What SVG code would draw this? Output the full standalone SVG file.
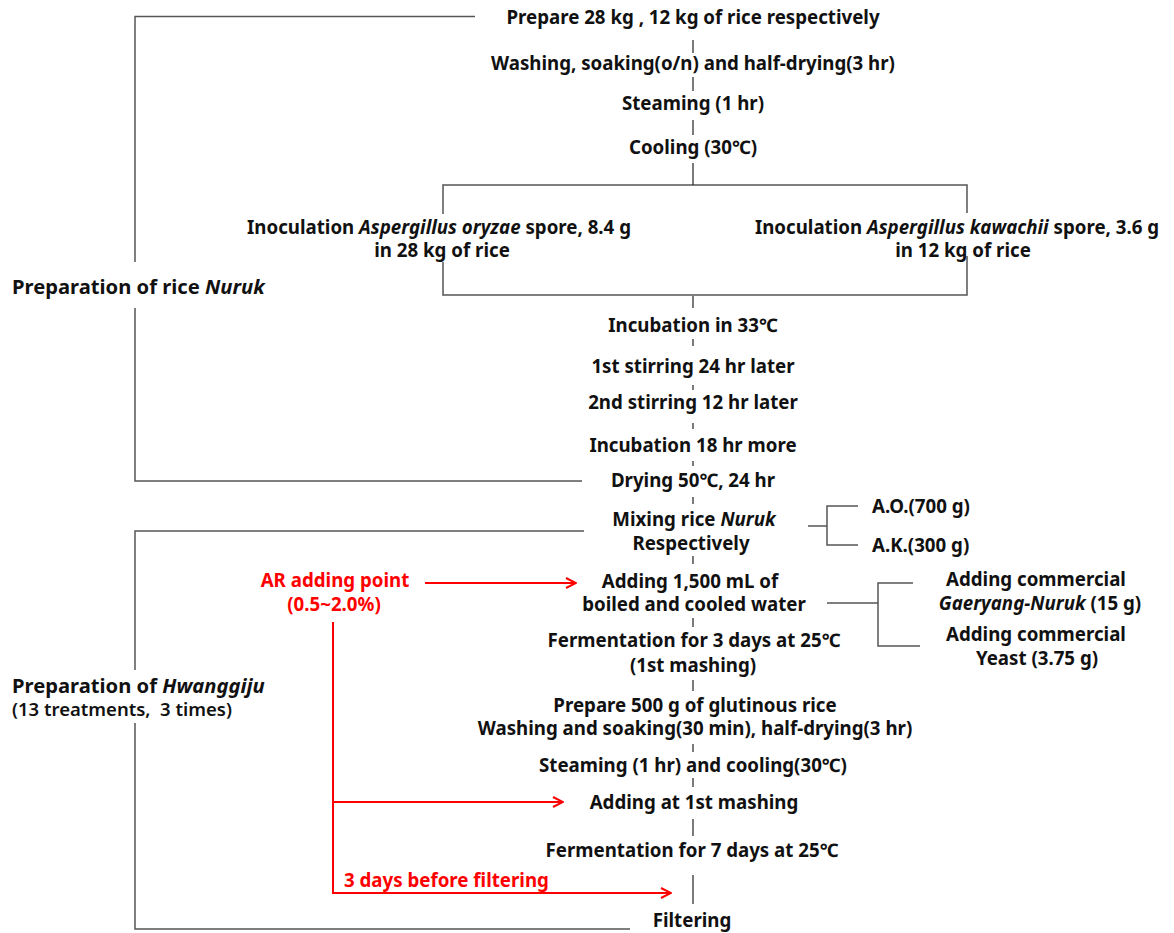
<svg xmlns="http://www.w3.org/2000/svg" width="1174" height="933" viewBox="0 0 1174 933">
<style>
text{font-family:"Noto Sans","Open Sans","Liberation Sans",sans-serif;font-weight:bold;font-size:18.7px;fill:#111;text-anchor:middle}
.i{font-style:italic}
.big{font-size:20.2px}
.s{font-size:18.5px;font-weight:600}
.l{text-anchor:start}
.r{fill:#ff0000}
.ln{stroke:#555;stroke-width:1.5;fill:none}
.d{stroke:#222;stroke-width:1.2;fill:none}
.red{stroke:#ff0000;stroke-width:2;fill:none}
</style>
<defs>
<marker id="ah" viewBox="0 0 12 12" refX="11" refY="6" markerWidth="12" markerHeight="12" markerUnits="userSpaceOnUse" orient="auto">
<path d="M1,1 L11,6 L1,11" fill="none" stroke="#ff0000" stroke-width="2"/>
</marker>
</defs>
<g id="connectors">
<polyline class="ln" points="475,16.5 135,16.5 135,262"/>
<polyline class="ln" points="135,308 135,481 582,481"/>
<polyline class="ln" points="584,531 135,531 135,670"/>
<polyline class="ln" points="135,723 135,929 630,929"/>
<polyline class="ln" points="443,214 443,185 967,185 967,213"/>
<polyline class="ln" points="443,262 443,295 967,295 967,256"/>
<line class="d" x1="693" y1="40" x2="693" y2="53"/>
<line class="d" x1="693" y1="77" x2="693" y2="91"/>
<line class="d" x1="693" y1="120" x2="693" y2="135"/>
<line class="d" x1="693" y1="163" x2="693" y2="185"/>
<line class="d" x1="693" y1="296" x2="693" y2="308"/>
<line class="d" x1="693" y1="339" x2="693" y2="346"/>
<line class="d" x1="693" y1="385" x2="693" y2="390"/>
<line class="d" x1="693" y1="423" x2="693" y2="429"/>
<line class="d" x1="693" y1="461" x2="693" y2="466"/>
<line class="d" x1="693" y1="497" x2="693" y2="504"/>
<line class="d" x1="693" y1="556" x2="693" y2="564"/>
<line class="d" x1="693" y1="618" x2="693" y2="627"/>
<line class="d" x1="693" y1="680" x2="693" y2="691"/>
<line class="d" x1="693" y1="744" x2="693" y2="752"/>
<line class="d" x1="693" y1="778" x2="693" y2="787"/>
<line class="d" x1="693" y1="819" x2="693" y2="836"/>
<line class="d" x1="693" y1="875" x2="693" y2="904"/>
<polyline class="ln" points="808,526 827,526"/>
<polyline class="ln" points="858,506 827,506 827,545 858,545"/>
<polyline class="ln" points="827,603 878,603"/>
<polyline class="ln" points="913,583 878,583 878,646 920,646"/>
<line class="red" x1="425" y1="583" x2="576" y2="583" marker-end="url(#ah)"/>
<polyline class="red" points="333,622 333,893 671,893" marker-end="url(#ah)"/>
<line class="red" x1="333" y1="802" x2="563" y2="802" marker-end="url(#ah)"/>
</g>
<g id="n-prepare"><text x="693" y="24">Prepare 28 kg , 12 kg of rice respectively</text></g>
<g id="n-washing"><text x="693" y="70">Washing, soaking(o/n) and half-drying(3 hr)</text></g>
<g id="n-steaming"><text x="693" y="110">Steaming (1 hr)</text></g>
<g id="n-cooling"><text x="693" y="154">Cooling (30℃)</text></g>
<g id="n-inoc-ao"><text x="439" y="234">Inoculation <tspan class="i">Aspergillus oryzae</tspan> spore, 8.4 g</text><text x="442" y="257">in 28 kg of rice</text></g>
<g id="n-inoc-ak"><text x="957" y="234">Inoculation <tspan class="i">Aspergillus kawachii</tspan> spore, 3.6 g</text><text x="963" y="257">in 12 kg of rice</text></g>
<g id="n-prep-nuruk"><text class="l big" x="12" y="294">Preparation of rice <tspan class="i">Nuruk</tspan></text></g>
<g id="n-incub33"><text x="693" y="332">Incubation in 33℃</text></g>
<g id="n-stir1"><text x="693" y="373">1st stirring 24 hr later</text></g>
<g id="n-stir2"><text x="693" y="409">2nd stirring 12 hr later</text></g>
<g id="n-incub18"><text x="693" y="452">Incubation 18 hr more</text></g>
<g id="n-drying"><text x="693" y="487">Drying 50℃, 24 hr</text></g>
<g id="n-mixing"><text x="694" y="526">Mixing rice <tspan class="i">Nuruk</tspan></text><text x="691" y="550">Respectively</text></g>
<g id="n-ao"><text class="l" x="872" y="513">A.O.(700 g)</text></g>
<g id="n-ak"><text class="l" x="872" y="552">A.K.(300 g)</text></g>
<g id="n-ar"><text class="r" x="335" y="587">AR adding point</text><text class="r" x="334" y="611">(0.5~2.0%)</text></g>
<g id="n-water"><text x="690" y="588">Adding 1,500 mL of</text><text x="694" y="611">boiled and cooled water</text></g>
<g id="n-gaeryang"><text x="1036" y="586">Adding commercial</text><text x="1040" y="610"><tspan class="i">Gaeryang-Nuruk</tspan> (15 g)</text></g>
<g id="n-yeast"><text x="1036" y="641">Adding commercial</text><text x="1037" y="665">Yeast (3.75 g)</text></g>
<g id="n-ferm3"><text x="694" y="647">Fermentation for 3 days at 25℃</text><text x="693" y="672">(1st mashing)</text></g>
<g id="n-prep-hwang"><text class="l big" x="12" y="693">Preparation of <tspan class="i">Hwanggiju</tspan></text><text class="s l" x="12" y="716" xml:space="preserve">(13 treatments,  3 times)</text></g>
<g id="n-glut"><text x="695" y="712">Prepare 500 g of glutinous rice</text><text x="695" y="735">Washing and soaking(30 min), half-drying(3 hr)</text></g>
<g id="n-steam2"><text x="693" y="772">Steaming (1 hr) and cooling(30℃)</text></g>
<g id="n-add1st"><text x="694" y="809">Adding at 1st mashing</text></g>
<g id="n-ferm7"><text x="692" y="857">Fermentation for 7 days at 25℃</text></g>
<g id="n-3days"><text class="r l" x="344" y="887">3 days before filtering</text></g>
<g id="n-filter"><text x="692" y="927">Filtering</text></g>
</svg>
